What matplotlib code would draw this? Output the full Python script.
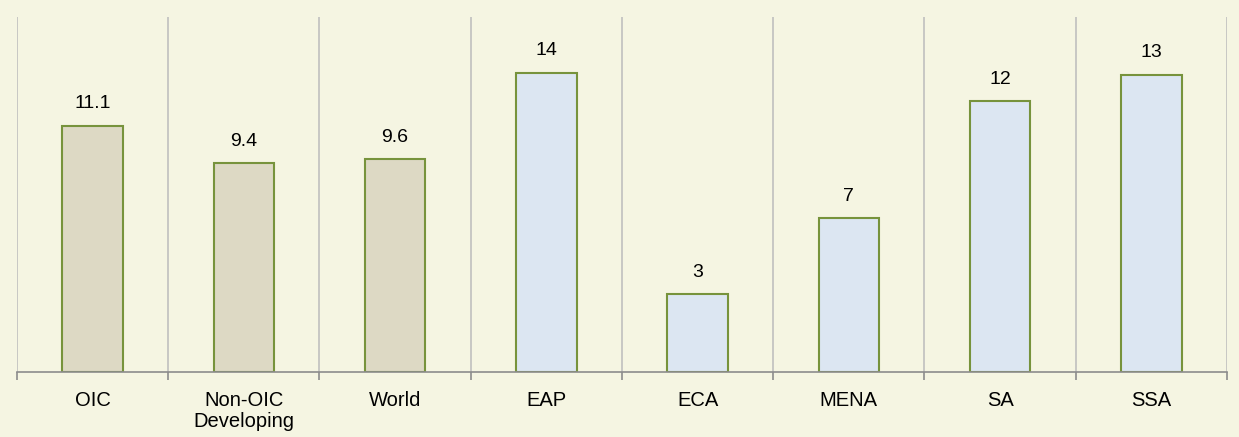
import matplotlib.pyplot as plt
import numpy as np

plt.rcParams['font.family'] = ['Liberation Sans', 'DejaVu Sans']

# данные
categories = ['OIC', 'Non-OIC\nDeveloping', 'World', 'EAP', 'ECA', 'MENA', 'SA', 'SSA']
values = [11.1, 9.4, 9.6, 13.5, 3.5, 6.95, 12.2, 13.4]
value_labels = ['11.1', '9.4', '9.6', '14', '3', '7', '12', '13']
fill_colors = ['#DDD9C4'] * 3 + ['#DCE6F2'] * 5

bg = '#F5F5E2'
fig = plt.figure(figsize=(12.39, 4.37), dpi=100, facecolor=bg)
ax = fig.add_axes([0.0137, 0.1487, 0.9766, 0.8123], facecolor=bg)

x = np.arange(len(categories))
ax.bar(x, values, width=0.4, color=fill_colors, edgecolor='#77933C', linewidth=1.5, zorder=3)

# подписи значений
for xi, v, lab in zip(x, values, value_labels):
    ax.text(xi, v + 0.6, lab, ha='center', va='bottom', fontsize=14, color='#000000')

ax.set_xlim(-0.5, len(categories) - 0.5)
ax.set_ylim(0, 16)

# сетка по границам категорий
bounds = np.arange(len(categories) + 1) - 0.5
for b in bounds:
    ax.axvline(b, color='#BFBFBF', linewidth=1.2, zorder=1)

ax.set_xticks(x)
ax.set_xticklabels(categories, fontsize=14.5, linespacing=1.1)
ax.tick_params(axis='x', which='major', length=0, pad=14)
ax.set_xticks(bounds, minor=True)
ax.tick_params(axis='x', which='minor', length=6, width=1.2, color='#8C8C8C')
ax.set_yticks([])

for s in ['top', 'right', 'left']:
    ax.spines[s].set_visible(False)
ax.spines['bottom'].set_color('#8C8C8C')
ax.spines['bottom'].set_linewidth(1.2)
ax.spines['bottom'].set_zorder(4)

plt.savefig('out.png', dpi=100, facecolor=bg)
